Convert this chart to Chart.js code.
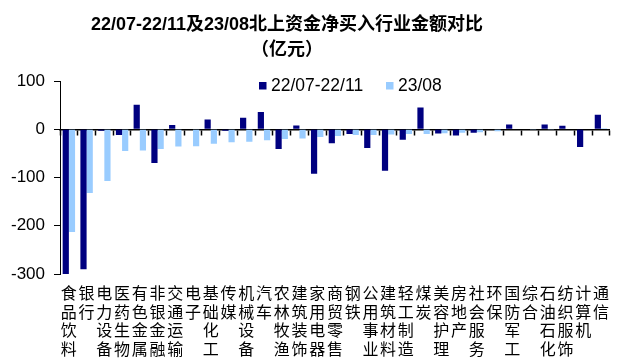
<!DOCTYPE html>
<html>
<head>
<meta charset="utf-8">
<script src="https://cdn.jsdelivr.net/npm/chart.js@4/dist/chart.umd.min.js"></script>
<style>
html, body { margin: 0; padding: 0; background: #fff; }
#wrap { width: 619px; height: 359px; }
</style>
</head>
<body>
<div id="wrap"><canvas id="mycanvas" width="619" height="359"></canvas></div>
<script>
// industries, one character per line under the axis
var industries = ['食品饮料','银行','电力设备','医药生物','有色金属','非银金融','交通运输','电子','基础化工','传媒',
  '机械设备','汽车','农林牧渔','建筑装饰','家用电器','商贸零售','钢铁','公用事业','建筑材料','轻工制造',
  '煤炭','美容护理','房地产','社会服务','环保','国防军工','综合','石油石化','纺织服饰','计算机','通信'];

// net buying, 100 million yuan
var period1 = [-301, -290, -3, -12, 51, -70, 9, 0, 20, -3,
  24, 36, -41, 8, -92, -29, -10, -39, -86, -22,
  45, -9, -13, -7.5, 0, 10, 0, 10, 7, -37, 30];
var period2 = [-213, -132, -107, -45, -44, -41, -36, -35, -30, -27,
  -26, -23, -20, -19, -16, -14, -12, -12, -11, -10,
  -10, -8.5, -7.5, -6, -4, -1, -0.5, -0.5, 1, 1, 2];

var yTicks = [100, 0, -100, -200, -300];
var seriesNames = ['22/07-22/11', '23/08'];
var titleLines = ['22/07-22/11及23/08北上资金净买入行业金额对比', '（亿元）'];

var dark = '#000080';
var light = '#99CCFF';

var chartdata = {
  labels: industries.map(function (s) { return s.split(''); }),
  datasets: [
    { label: seriesNames[0], backgroundColor: dark, data: period1 },
    { label: seriesNames[1], backgroundColor: light, data: period2 }
  ]
};

// title and legend are drawn by hand
var decor = {
  id: 'decor',
  afterDraw: function (chart) {
    var c = chart.ctx;
    c.save();
    c.fillStyle = '#000';
    c.textAlign = 'center';
    c.textBaseline = 'middle';
    c.font = 'bold 18px "Liberation Sans", "Noto Sans CJK SC", sans-serif';
    c.fillText(titleLines[0], 287, 25);
    c.fillText(titleLines[1], 287, 50);

    c.textAlign = 'left';
    c.font = '17.5px "Liberation Sans", sans-serif';
    var lx = [259, 386];
    for (var i = 0; i < 2; i++) {
      c.fillStyle = chart.data.datasets[i].backgroundColor;
      c.fillRect(lx[i], 82, 7.5, 7.5);
      c.fillStyle = '#000';
      c.fillText(seriesNames[i], lx[i] + 12, 86.5);
    }
    c.restore();
  }
};

var ctx = document.querySelector('#mycanvas');

var barGraph = new Chart(ctx, {
  type: 'bar',
  data: chartdata,
  plugins: [decor],
  options: {
    responsive: false,
    animation: false,
    layout: { padding: { top: 81, right: 3, left: 0, bottom: 0 } },
    plugins: { legend: { display: false }, title: { display: false }, tooltip: { enabled: false } },
    datasets: { bar: { categoryPercentage: 0.7, barPercentage: 1.0 } },
    scales: {
      x: {
        position: 'bottom',
        grid: { display: false, drawTicks: false },
        border: { display: false },
        ticks: {
          autoSkip: false, maxRotation: 0, padding: 10,
          color: '#000',
          font: { family: '"Noto Sans CJK SC", sans-serif', size: 16, lineHeight: 1.16 }
        },
        afterFit: function (s) { s.height = 85; }
      },
      x0: {
        type: 'category',
        position: { y: 0 },
        offset: true,
        grid: { drawOnChartArea: false, drawTicks: true, tickLength: 5, tickColor: '#000', tickWidth: 1.5, offset: true },
        border: { display: true, color: '#000', width: 1.5 },
        ticks: { display: false }
      },
      y: {
        min: -300, max: 100,
        afterBuildTicks: function (s) { s.ticks = yTicks.map(function (v) { return { value: v }; }); },
        grid: { drawOnChartArea: false, drawTicks: true, tickLength: 6, tickColor: '#000' },
        border: { display: true, color: '#000', width: 1 },
        ticks: {
          padding: 9, color: '#000',
          font: { family: '"Liberation Sans", sans-serif', size: 17 }
        },
        afterFit: function (s) { s.width = 60; }
      }
    }
  }
});
</script>
</body>
</html>
